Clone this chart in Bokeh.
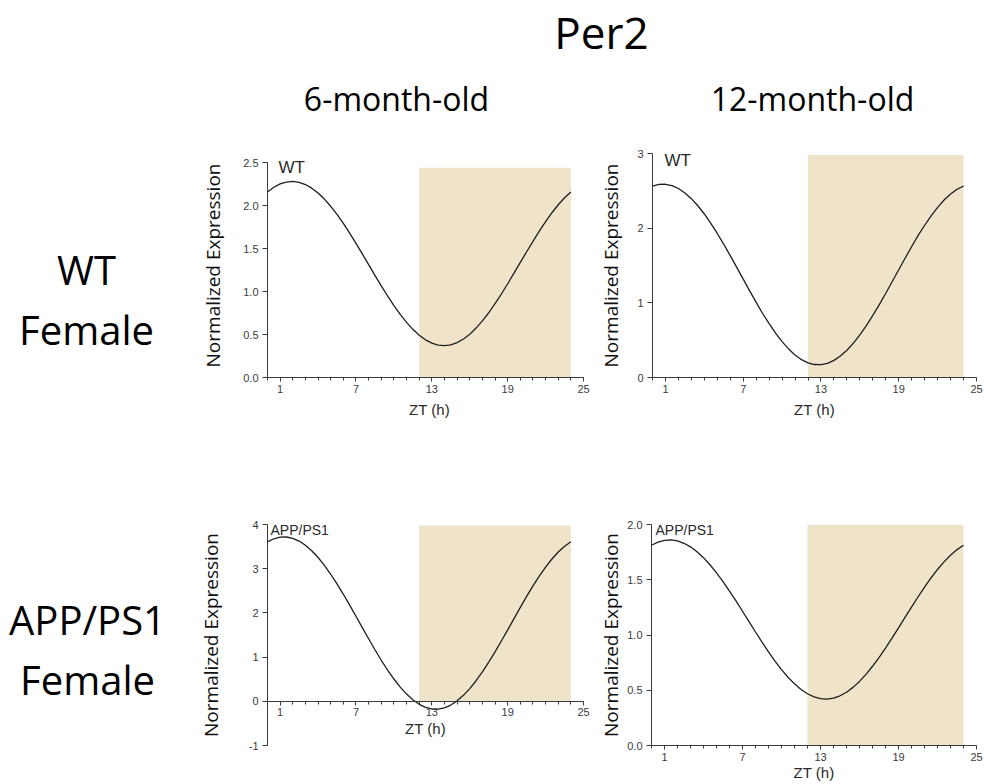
from bokeh.plotting import figure
from bokeh.layouts import column, row
from bokeh.models import Range1d, FixedTicker, Label, ColumnDataSource, NumeralTickFormatter
from bokeh.embed import file_html
from bokeh.resources import INLINE

# ---------------- data (every half hour) ----------------
zt_hours = [0, 0.5, 1, 1.5, 2, 2.5, 3, 3.5, 4, 4.5, 5, 5.5, 6, 6.5, 7, 7.5, 8, 8.5, 9, 9.5,
            10, 10.5, 11, 11.5, 12, 12.5, 13, 13.5, 14, 14.5, 15, 15.5, 16, 16.5, 17, 17.5,
            18, 18.5, 19, 19.5, 20, 20.5, 21, 21.5, 22, 22.5, 23, 23.5, 24]
wt_6m = [2.158, 2.212, 2.251, 2.273, 2.280, 2.270, 2.244, 2.202, 2.146, 2.075, 1.991, 1.896,
         1.792, 1.679, 1.560, 1.437, 1.312, 1.188, 1.066, 0.948, 0.837, 0.734, 0.641, 0.560,
         0.492, 0.438, 0.400, 0.377, 0.370, 0.380, 0.406, 0.448, 0.504, 0.575, 0.659, 0.753,
         0.858, 0.971, 1.090, 1.213, 1.338, 1.462, 1.584, 1.702, 1.813, 1.916, 2.009, 2.090, 2.158]
wt_12m = [2.563, 2.586, 2.588, 2.570, 2.531, 2.472, 2.395, 2.300, 2.190, 2.065, 1.929, 1.784,
          1.632, 1.475, 1.317, 1.160, 1.006, 0.857, 0.721, 0.594, 0.481, 0.383, 0.302, 0.239,
          0.197, 0.174, 0.172, 0.190, 0.229, 0.288, 0.365, 0.460, 0.570, 0.695, 0.831, 0.976,
          1.128, 1.285, 1.443, 1.600, 1.754, 1.903, 2.039, 2.166, 2.279, 2.377, 2.458, 2.521, 2.563]
app_6m = [3.608, 3.677, 3.714, 3.717, 3.687, 3.625, 3.530, 3.405, 3.253, 3.075, 2.874, 2.655,
          2.421, 2.175, 1.923, 1.668, 1.415, 1.167, 0.928, 0.708, 0.504, 0.321, 0.163, 0.033,
          -0.068, -0.137, -0.174, -0.177, -0.147, -0.085, 0.010, 0.135, 0.287, 0.465, 0.666, 0.885,
          1.119, 1.365, 1.617, 1.872, 2.125, 2.373, 2.612, 2.832, 3.036, 3.219, 3.377, 3.507, 3.608]
app_12m = [1.812, 1.840, 1.856, 1.860, 1.851, 1.830, 1.798, 1.754, 1.700, 1.636, 1.563, 1.484,
           1.398, 1.308, 1.215, 1.121, 1.027, 0.936, 0.847, 0.764, 0.687, 0.618, 0.558, 0.507,
           0.468, 0.440, 0.424, 0.420, 0.429, 0.450, 0.482, 0.526, 0.580, 0.644, 0.717, 0.796,
           0.882, 0.972, 1.065, 1.159, 1.253, 1.344, 1.433, 1.516, 1.593, 1.662, 1.722, 1.773, 1.812]

x_major_ticks = [1, 7, 13, 19, 25]
x_minor_ticks = list(range(0, 26))
dark_start, dark_end = 12, 24
shade_tops = [2.44, 2.98, 3.98, 2.0]

y_ticks_wt6 = [0, 0.5, 1.0, 1.5, 2.0, 2.5]
y_ticks_wt12 = [0, 1, 2, 3]
y_ticks_app6 = [-1, 0, 1, 2, 3, 4]
y_ticks_app12 = [0, 0.5, 1.0, 1.5, 2.0]

title_text = "Per2"
col_titles = ["6-month-old", "12-month-old"]
row_titles = [["WT", "Female"], ["APP/PS1", "Female"]]
tags = ["WT", "WT", "APP/PS1", "APP/PS1"]

HEAD = "Open Sans"
AX = "Liberation Sans"
AXC = "#3a3a3a"

# row geometry (page pixels)
ROW1_TOP, ROW1_H, T1, B1 = 140, 320, 13, 83
ROW2_TOP, ROW2_H, T2, B2 = 460, 324, 64, 39


def panel(yvals, x_end, y0, y1, ybounds, yticks, yfmt, shade_top, tag, tag_x, tag_y, tag_size,
          w, h, bl, br, bt, bb, ylab_sd, xlab_sd, x_fixed):
    p = figure(width=w, height=h, x_range=Range1d(0, x_end), y_range=Range1d(y0, y1),
               output_backend="svg", toolbar_location=None, title=None,
               min_border_left=bl, min_border_right=br, min_border_top=bt, min_border_bottom=bb)
    p.outline_line_color = None
    p.grid.visible = False
    p.background_fill_color = "white"
    p.border_fill_color = "white"

    p.quad(left=[dark_start], right=[dark_end], bottom=[0], top=[shade_top],
           fill_color="#EFE4CA", line_color=None)
    src = ColumnDataSource(dict(x=zt_hours, y=yvals))
    p.line("x", "y", source=src, line_color="#1e1e1e", line_width=1.3)

    xa = p.xaxis[0]
    xa.ticker = FixedTicker(ticks=x_major_ticks, minor_ticks=x_minor_ticks)
    xa.bounds = (0, 25)
    if x_fixed:
        xa.fixed_location = 0
    xa.axis_label = "ZT (h)"
    xa.axis_label_text_font = AX
    xa.axis_label_text_font_size = "15px"
    xa.axis_label_text_font_style = "normal"
    xa.axis_label_text_color = "#2a2a2a"
    xa.axis_label_standoff = xlab_sd
    xa.major_label_text_font = AX
    xa.major_label_text_font_size = "11px"
    xa.major_label_text_color = AXC
    xa.major_label_standoff = 3
    xa.major_tick_in = 0
    xa.major_tick_out = 4
    xa.minor_tick_in = 0
    xa.minor_tick_out = 3
    xa.axis_line_color = AXC
    xa.major_tick_line_color = AXC
    xa.minor_tick_line_color = AXC

    ya = p.yaxis[0]
    ya.ticker = FixedTicker(ticks=yticks, minor_ticks=[])
    ya.bounds = ybounds
    ya.formatter = NumeralTickFormatter(format=yfmt)
    ya.axis_label = "Normalized Expression"
    ya.axis_label_text_font = HEAD
    ya.axis_label_text_font_size = "19px"
    ya.axis_label_text_font_style = "normal"
    ya.axis_label_text_color = "#111111"
    ya.axis_label_standoff = ylab_sd
    ya.major_label_text_font = AX
    ya.major_label_text_font_size = "11px"
    ya.major_label_text_color = AXC
    ya.major_label_standoff = 4
    ya.major_tick_in = 0
    ya.major_tick_out = 5
    ya.minor_tick_line_color = None
    ya.axis_line_color = AXC
    ya.major_tick_line_color = AXC

    p.add_layout(Label(x=tag_x, y=tag_y, text=tag, text_font=AX, text_font_size=tag_size,
                       text_color="#2a2a2a", text_baseline="alphabetic", text_align="left"))
    return p


def canvas(w, h, y_page_top, bt, bb):
    # frame maps directly to page pixels
    c = figure(width=w, height=h, x_range=Range1d(0, w),
               y_range=Range1d(y_page_top + h - bb, y_page_top + bt),
               output_backend="svg", toolbar_location=None, title=None,
               min_border_left=0, min_border_right=0, min_border_top=bt, min_border_bottom=bb,
               x_axis_location=None, y_axis_location=None)
    c.outline_line_color = None
    c.grid.visible = False
    return c


def big(c, x, y, text, size, align="center"):
    c.add_layout(Label(x=x, y=y, text=text, text_font=HEAD, text_font_size=size,
                       text_align=align, text_baseline="alphabetic", text_color="black"))


# header
head = canvas(984, ROW1_TOP, 0, 0, 0)
big(head, 601, 31, title_text, "44px")
big(head, 396, 98, col_titles[0], "32px")
big(head, 812, 98, col_titles[1], "32px")

# row labels
lab1 = canvas(190, ROW1_H, ROW1_TOP, T1, B1)
big(lab1, 86, 269, row_titles[0][0], "40px")
big(lab1, 86, 329, row_titles[0][1], "40px")
lab2 = canvas(190, ROW2_H, ROW2_TOP, T2, B2)
big(lab2, 87, 619, row_titles[1][0], "40px")
big(lab2, 87, 679, row_titles[1][1], "40px")

XL = 25.63  # a little room right of ZT 25 for its label
p1 = panel(wt_6m, XL, 0, 2.605, (0, 2.5), y_ticks_wt6, "0.0", shade_tops[0], tags[0], 0.87, 2.44, "17px",
           405, ROW1_H, 77, 4, T1, B1, 14, 5, False)
p2 = panel(wt_12m, 25, 0, 3, (0, 3), y_ticks_wt12, "0", shade_tops[1], tags[1], 0.92, 2.90, "17px",
           389, ROW1_H, 56, 8, T1, B1, 10, 5, False)
p3 = panel(app_6m, XL, -1, 4, (-1, 4), y_ticks_app6, "0", shade_tops[2], tags[2], 0.24, 3.88, "14px",
           405, ROW2_H, 77, 4, T2, B2, 22, 0, True)
p4 = panel(app_12m, 25, 0, 2, (0, 2), y_ticks_app12, "0.0", shade_tops[3], tags[3], 0.31, 1.95, "14px",
           389, ROW2_H, 56, 8, T2, B2, 0, 0, False)

layout = column(head, row(lab1, p1, p2), row(lab2, p3, p4))

open("out.html", "w").write(file_html(layout, INLINE))
